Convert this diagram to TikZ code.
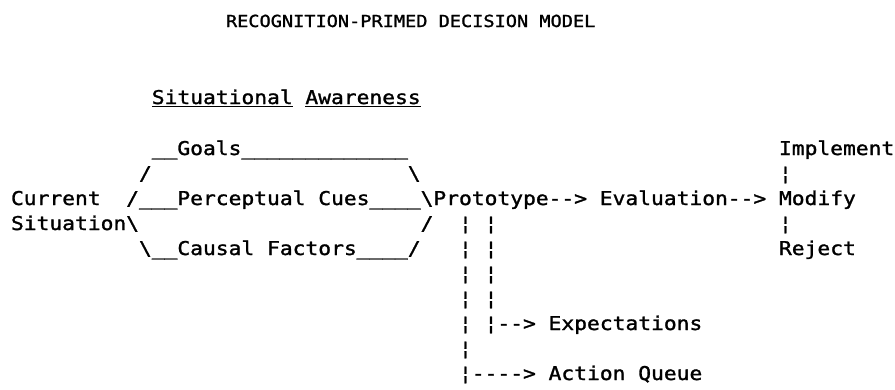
\documentclass[tikz,border=0pt]{standalone}
\usepackage{fontspec}
% typewriter-like monospaced face, slightly widened to a 12.8pt pitch
\newfontfamily\typewriter[FakeStretch=1.12, FakeBold=1.4]{DejaVu Sans Mono}
% a hyphen that cannot merge with its neighbour into a dash
\newcommand\twhy{-\kern0pt}
\tikzset{
  tw/.style={font=\typewriter\fontsize{19}{19}\selectfont, inner sep=0pt,
             outer sep=0pt, anchor=base west, text=black},
  twtitle/.style={tw, font=\typewriter\fontsize{16.6}{16.6}\selectfont},
  ul/.style={draw=black, line width=1.7pt},
}
\begin{document}
\begin{tikzpicture}
\useasboundingbox (0,0) rectangle (895pt,-389pt);
\fill[white] (0,0) rectangle (895pt,-389pt);

\node[twtitle] (title) at (226pt,-27pt) {RECOGNITION\twhy PRIMED DECISION MODEL};

% character grid: x = column, y = typed line
\begin{scope}[shift={(11pt,-130pt)}, x=12.8pt, y=-25pt]
  % heading
  \node[tw] (sa1) at (11,-1.04) {Situational};
  \node[tw] (sa2) at (23,-1.04) {Awareness};
  \draw[ul] ([yshift=-2.5pt]sa1.base west) -- ([yshift=-2.5pt]sa1.base east);
  \draw[ul] ([yshift=-2.5pt]sa2.base west) -- ([yshift=-2.5pt]sa2.base east);

  % line 1
  \node[tw] (g1) at (11,1) {\_\_};
  \node[tw] (goals) at (13,1) {Goals};
  \node[tw] (g2) at (18,1) {\_\_\_\_\_\_\_\_\_\_\_\_\_};
  \node[tw] (impl) at (60,1) {Implement};

  % line 2
  \node[tw] (s1) at (10,2) {/};
  \node[tw] (s2) at (31,2) {\textbackslash};
  \node[tw] (b1) at (60,2) {¦};

  % line 3
  \node[tw] (cur) at (0,3) {Current};
  \node[tw] (s3) at (9,3) {/\_\_\_};
  \node[tw] (cues) at (13,3) {Perceptual Cues};
  \node[tw] (s4) at (28,3) {\_\_\_\_\textbackslash};
  \node[tw] (proto) at (33,3) {Prototype};
  \node[tw] (a1) at (42,3) {\twhy\twhy>};
  \node[tw] (eval) at (46,3) {Evaluation};
  \node[tw] (a2) at (56,3) {\twhy\twhy>};
  \node[tw] (mod) at (60,3) {Modify};

  % line 4
  \node[tw] (sit) at (0,4) {Situation};
  \node[tw] (s5) at (9,4) {\textbackslash};
  \node[tw] (s6) at (32,4) {/};
  \node[tw] (b2) at (60,4) {¦};

  % line 5
  \node[tw] (s7) at (10,5) {\textbackslash\_\_};
  \node[tw] (causal) at (13,5) {Causal Factors};
  \node[tw] (s8) at (27,5) {\_\_\_\_/};
  \node[tw] (rej) at (60,5) {Reject};

  % the two typed verticals under Prototype
  \foreach \r in {4,...,9}
    \node[tw] (va\r) at (35,\r) {¦};
  \foreach \r in {4,...,7}
    \node[tw] (vb\r) at (37,\r) {¦};

  % line 8
  \node[tw] (a3) at (37,8) {¦\twhy\twhy>};
  \node[tw] (expect) at (42,8) {Expectations};

  % line 10
  \node[tw] (a4) at (35,10) {¦\twhy\twhy\twhy\twhy>};
  \node[tw] (queue) at (42,10) {Action Queue};
\end{scope}
\end{tikzpicture}
\end{document}
